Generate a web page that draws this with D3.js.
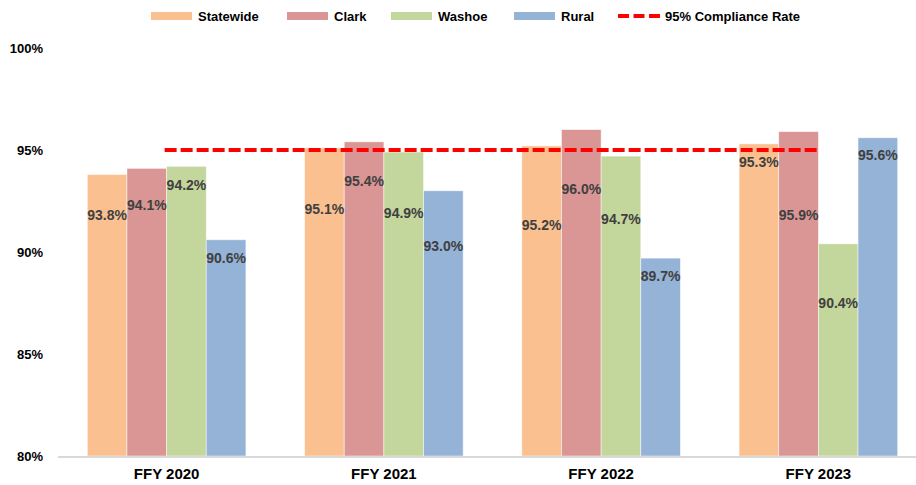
<!DOCTYPE html>
<html>
<head>
<meta charset="utf-8">
<script src="https://cdn.jsdelivr.net/npm/d3@7"></script>
<style>
  body { margin: 0; background: #fff; }
  svg { display: block; font-family: "Liberation Sans", Arial, sans-serif; }
</style>
</head>
<body>
<script>
// chart data
const years = ['FFY 2020', 'FFY 2021', 'FFY 2022', 'FFY 2023'];
const regions = ['Statewide', 'Clark', 'Washoe', 'Rural'];
const statewide = [93.8, 95.1, 95.2, 95.3];
const clark = [94.1, 95.4, 96.0, 95.9];
const washoe = [94.2, 94.9, 94.7, 90.4];
const rural = [90.6, 93.0, 89.7, 95.6];
const complianceRate = 95;
const yTicks = [80, 85, 90, 95, 100];
// where each value label sits (in % units), as placed on the original
const labelStatewide = [91.8, 92.1, 91.3, 94.4];
const labelClark = [92.3, 93.5, 93.1, 91.8];
const labelWashoe = [93.3, 91.9, 91.6, 87.5];
const labelRural = [89.7, 90.3, 88.8, 94.75];

const colors = ['#FAC090', '#D99694', '#C3D69B', '#95B3D7'];
const seriesValues = [statewide, clark, washoe, rural];
const seriesLabels = [labelStatewide, labelClark, labelWashoe, labelRural];

const width = 916, height = 485;

const svg = d3.select('body')
  .append('svg')
  .attr('width', width)
  .attr('height', height);

const x = d3.scaleBand()
  .domain(years)
  .range([58, 927])
  .paddingInner(0.27)
  .paddingOuter(0.135);

const xInner = d3.scaleBand()
  .domain(regions)
  .range([0, x.bandwidth()]);

const y = d3.scaleLinear()
  .domain([80, 100])
  .range([456, 48]);

// y labels
svg.append('g')
  .selectAll('text')
  .data(yTicks)
  .enter()
  .append('text')
  .attr('x', 43)
  .attr('y', d => y(d))
  .attr('dy', '0.35em')
  .attr('text-anchor', 'end')
  .style('font-size', '13px')
  .style('font-weight', 'bold')
  .style('fill', '#000')
  .text(d => d + '%');

// bars
const rows = [];
years.forEach((yr, i) => {
  regions.forEach((r, j) => {
    rows.push({ year: yr, region: r, value: seriesValues[j][i], labelAt: seriesLabels[j][i], color: colors[j] });
  });
});

svg.append('g')
  .selectAll('rect')
  .data(rows)
  .enter()
  .append('rect')
  .attr('x', d => x(d.year) + xInner(d.region))
  .attr('y', d => y(d.value))
  .attr('width', xInner.bandwidth())
  .attr('height', d => y(80) - y(d.value))
  .attr('fill', d => d.color)
  .attr('stroke', 'rgba(255,255,255,0.6)')
  .attr('stroke-width', 0.8);

// axis line
svg.append('line')
  .attr('x1', 58).attr('x2', width)
  .attr('y1', y(80) + 1).attr('y2', y(80) + 1)
  .attr('stroke', '#d9d9d9')
  .attr('stroke-width', 2);

// x labels
svg.append('g')
  .selectAll('text')
  .data(years)
  .enter()
  .append('text')
  .attr('x', d => x(d) + x.bandwidth() / 2)
  .attr('y', 474)
  .attr('dy', '0.35em')
  .attr('text-anchor', 'middle')
  .style('font-size', '15px')
  .style('font-weight', 'bold')
  .style('fill', '#000')
  .text(d => d);

// compliance line
svg.append('line')
  .attr('x1', x(years[0]) + x.bandwidth() / 2 - 2)
  .attr('x2', x(years[years.length - 1]) + x.bandwidth() / 2 + 2)
  .attr('y1', y(complianceRate))
  .attr('y2', y(complianceRate))
  .attr('stroke', '#FF0000')
  .attr('stroke-width', 4)
  .attr('stroke-dasharray', '12,4');

// value labels
svg.append('g')
  .selectAll('text')
  .data(rows)
  .enter()
  .append('text')
  .attr('x', d => x(d.year) + xInner(d.region) + xInner.bandwidth() / 2)
  .attr('y', d => y(d.labelAt))
  .attr('dy', '0.35em')
  .attr('text-anchor', 'middle')
  .style('font-size', '14px')
  .style('font-weight', 'bold')
  .style('fill', '#404040')
  .text(d => d.value.toFixed(1) + '%');

// legend
const legendItems = [
  { name: 'Statewide', x: 151, color: colors[0] },
  { name: 'Clark', x: 287, color: colors[1] },
  { name: 'Washoe', x: 391, color: colors[2] },
  { name: 'Rural', x: 514, color: colors[3] }
];

const legend = svg.append('g');

legend.selectAll('rect')
  .data(legendItems)
  .enter()
  .append('rect')
  .attr('x', d => d.x)
  .attr('y', 12)
  .attr('width', 41)
  .attr('height', 8)
  .attr('fill', d => d.color);

legend.append('line')
  .attr('x1', 618).attr('x2', 660)
  .attr('y1', 16).attr('y2', 16)
  .attr('stroke', '#FF0000')
  .attr('stroke-width', 4)
  .attr('stroke-dasharray', '11,4.5');

legend.selectAll('text')
  .data(legendItems.concat([{ name: '95% Compliance Rate', x: 618 }]))
  .enter()
  .append('text')
  .attr('x', d => d.x + 47)
  .attr('y', 16)
  .attr('dy', '0.35em')
  .style('font-size', '13px')
  .style('font-weight', 'bold')
  .style('fill', '#000')
  .text(d => d.name);
</script>
</body>
</html>
